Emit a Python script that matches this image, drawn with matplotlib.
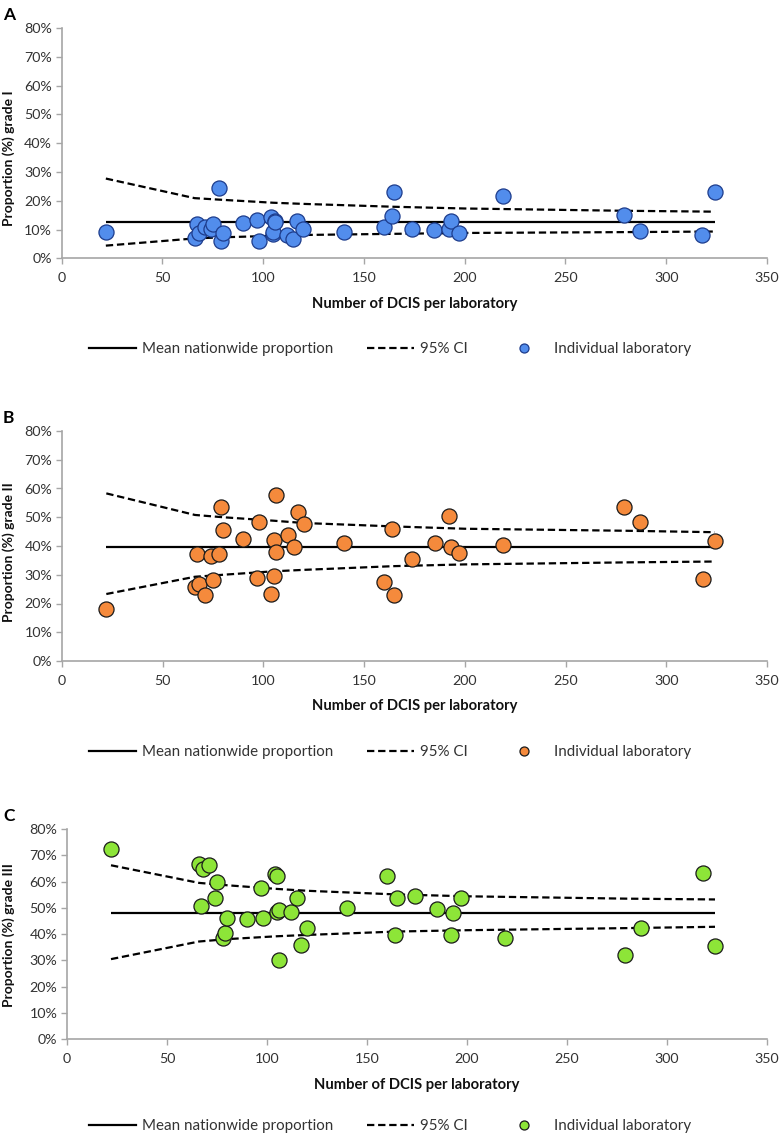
import matplotlib.pyplot as plt
from matplotlib.lines import Line2D
from matplotlib.ticker import FuncFormatter

plt.rcParams['font.family'] = ['Lato', 'DejaVu Sans']

# number of DCIS per laboratory (same labs in every panel)
n_dcis = [22, 66, 67, 68, 71, 74, 75, 78, 79, 80, 90, 97, 98, 104, 105, 105,
          106, 106, 112, 115, 117, 120, 140, 160, 164, 165, 174, 185, 192,
          193, 197, 219, 279, 287, 318, 324]

# proportion (%) per laboratory
grade1 = [9.1, 7.2, 12.0, 8.7, 11.0, 10.2, 12.0, 24.4, 6.1, 8.7, 12.4, 13.4,
          6.1, 14.3, 8.5, 9.0, 13.0, 12.5, 8.1, 6.6, 13.1, 10.1, 9.1, 10.7,
          14.8, 23.0, 10.2, 9.9, 10.2, 13.0, 8.7, 21.5, 15.1, 9.6, 8.1, 22.9]
grade2 = [18.1, 25.9, 37.3, 26.7, 22.8, 36.6, 28.2, 37.3, 53.4, 45.4, 42.5,
          29.0, 48.3, 23.3, 29.7, 42.2, 37.9, 57.8, 43.9, 39.5, 51.7, 47.7,
          41.0, 27.6, 45.9, 23.0, 35.4, 41.2, 50.3, 39.8, 37.7, 40.4, 53.4,
          48.3, 28.6, 41.9]
grade3 = [72.5, 66.8, 50.7, 64.6, 66.2, 53.9, 59.9, 38.4, 40.5, 46.2, 45.6,
          57.7, 46.0, 62.7, 62.0, 48.5, 49.1, 30.1, 48.3, 53.9, 35.8, 42.4,
          50.0, 62.0, 39.6, 53.8, 54.5, 49.4, 39.6, 47.9, 53.8, 38.6, 32.0,
          42.2, 63.3, 35.4]

# mean nationwide proportion (%)
mean1, mean2, mean3 = 12.5, 39.6, 48.1

# 95% CI limits read at a few laboratory sizes
ci_x = [22, 66, 80, 105, 120, 165, 200, 280, 324]
ci1_upper = [27.7, 20.9, 20.3, 19.3, 18.9, 17.9, 17.3, 16.5, 16.2]
ci1_lower = [4.4, 6.9, 7.3, 7.8, 8.1, 8.5, 8.8, 9.1, 9.3]
ci2_upper = [58.3, 50.8, 50.0, 48.8, 48.0, 46.8, 46.0, 45.3, 44.8]
ci2_lower = [23.3, 29.3, 30.0, 31.2, 31.7, 33.0, 33.6, 34.3, 34.6]
ci3_upper = [66.2, 59.5, 58.6, 57.2, 56.5, 55.1, 54.4, 53.5, 53.2]
ci3_lower = [30.5, 37.2, 38.1, 39.2, 39.7, 41.0, 41.5, 42.3, 42.8]

W, H = 780, 1136
fig = plt.figure(figsize=(W / 100, H / 100), dpi=100)

panels = [
    dict(letter="A", ylabel="Proportion (%) grade I", y=grade1, mean=mean1,
         lo=ci1_lower, hi=ci1_upper, face="#528DEC", edge="#1D3C8C",
         box=(61.5, 28, 767, 258.3), ylabel_y=158, legend_y=349),
    dict(letter="B", ylabel="Proportion (%) grade II", y=grade2, mean=mean2,
         lo=ci2_lower, hi=ci2_upper, face="#F58A3C", edge="#1a1a1a",
         box=(62, 431, 767, 661), ylabel_y=552, legend_y=752),
    dict(letter="C", ylabel="Proportion (%) grade III", y=grade3, mean=mean3,
         lo=ci3_lower, hi=ci3_upper, face="#8DE538", edge="#1a1a1a",
         box=(67, 829, 767, 1039.3), ylabel_y=935, legend_y=1126),
]

axis_gray = "#A6A6A6"
text_col = "#333333"

for p in panels:
    x0, y0, x1, y1 = p["box"]
    ax = fig.add_axes([x0 / W, 1 - y1 / H, (x1 - x0) / W, (y1 - y0) / H])

    ax.plot([n_dcis[0], n_dcis[-1]], [p["mean"], p["mean"]], color="black",
            lw=1.6, solid_capstyle="butt", zorder=2)
    ax.plot(ci_x, p["hi"], color="black", lw=1.6, dashes=(3.3, 1.7), zorder=2)
    ax.plot(ci_x, p["lo"], color="black", lw=1.6, dashes=(3.3, 1.7), zorder=2)
    ax.scatter(n_dcis, p["y"], s=118, color=p["face"], edgecolors=p["edge"],
               linewidths=0.9, zorder=3, clip_on=False)

    ax.set_xlim(0, 350)
    ax.set_ylim(0, 80)
    ax.set_xticks(range(0, 351, 50))
    ax.set_yticks(range(0, 81, 10))
    ax.yaxis.set_major_formatter(FuncFormatter(lambda v, _: f"{v:.0f}%"))
    for s in ("top", "right"):
        ax.spines[s].set_visible(False)
    for s in ("left", "bottom"):
        ax.spines[s].set_color(axis_gray)
        ax.spines[s].set_linewidth(1.2)
    ax.tick_params(axis="both", colors=axis_gray, labelcolor=text_col,
                   labelsize=10.3, length=4, width=1.0)
    ax.tick_params(axis="x", pad=6)
    ax.tick_params(axis="y", pad=3)

    ax.set_xlabel("Number of DCIS per laboratory", fontsize=10.6,
                  fontweight="bold", color="#111111", labelpad=9)
    fig.text(9 / W, 1 - p["ylabel_y"] / H, p["ylabel"], rotation=90,
             ha="center", va="center", fontsize=10, fontweight="bold",
             color="#111111")
    fig.text(3 / W, 1 - (y0 - 13) / H, p["letter"], ha="left", va="center",
             fontsize=12.5, fontweight="bold", color="black")

    handles = [
        Line2D([], [], color="black", lw=1.6),
        Line2D([], [], color="black", lw=1.6, dashes=(3.3, 1.7)),
        Line2D([], [], ls="none", marker="o", markersize=6.5,
               markerfacecolor=p["face"], markeredgecolor=p["edge"],
               markeredgewidth=0.9),
    ]
    labels = ["Mean nationwide proportion", "95% CI", "Individual laboratory"]
    fig.legend(handles, labels, loc="center", ncol=3, frameon=False,
               bbox_to_anchor=(390 / W, 1 - p["legend_y"] / H),
               fontsize=10.9, handlelength=3.1, handletextpad=0.4,
               columnspacing=2.2, labelcolor=text_col)

fig.savefig("out.png", dpi=100)
